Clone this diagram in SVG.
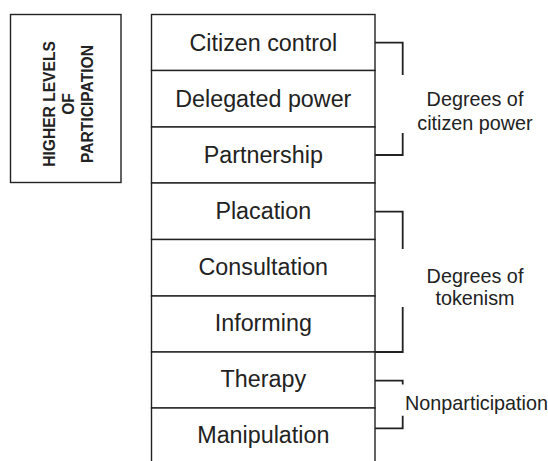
<svg xmlns="http://www.w3.org/2000/svg" width="548" height="461" viewBox="0 0 548 461">
  <style>
    .box { fill: #ffffff; stroke: #222222; stroke-width: 1.4; }
    .rung { font-family: "Liberation Sans", Arial, sans-serif; font-size: 23.3px; fill: #222222; text-anchor: middle; }
    .side { font-family: "Liberation Sans", Arial, sans-serif; font-size: 19.8px; fill: #222222; text-anchor: middle; }
    .axis { font-family: "Liberation Sans", Arial, sans-serif; font-size: 15.6px; font-weight: bold; fill: #222222; text-anchor: middle; }
    .bracket { fill: none; stroke: #222222; stroke-width: 1.8; }
  </style>
  <rect width="548" height="461" fill="#ffffff"/>

  <!-- side label box -->
  <g id="levels">
    <rect class="box" x="10.5" y="14.5" width="110.5" height="168"/>
    <text class="axis" transform="translate(55,104) rotate(-90)">HIGHER LEVELS</text>
    <text class="axis" transform="translate(74,104) rotate(-90)">OF</text>
    <text class="axis" transform="translate(93,104) rotate(-90)">PARTICIPATION</text>
  </g>

  <!-- ladder rungs, top to bottom -->
  <g id="citizen-control">
    <rect class="box" x="151.5" y="14.5" width="223.5" height="56"/>
    <text class="rung" x="263.3" y="50.5">Citizen control</text>
  </g>
  <g id="delegated-power">
    <rect class="box" x="151.5" y="70.5" width="223.5" height="56.5"/>
    <text class="rung" x="263.3" y="106.5">Delegated power</text>
  </g>
  <g id="partnership">
    <rect class="box" x="151.5" y="127" width="223.5" height="56"/>
    <text class="rung" x="263.3" y="162.5">Partnership</text>
  </g>
  <g id="placation">
    <rect class="box" x="151.5" y="183" width="223.5" height="56.5"/>
    <text class="rung" x="263.3" y="218.5">Placation</text>
  </g>
  <g id="consultation">
    <rect class="box" x="151.5" y="239.5" width="223.5" height="56.5"/>
    <text class="rung" x="263.3" y="275">Consultation</text>
  </g>
  <g id="informing">
    <rect class="box" x="151.5" y="296" width="223.5" height="56"/>
    <text class="rung" x="263.3" y="331">Informing</text>
  </g>
  <g id="therapy">
    <rect class="box" x="151.5" y="352" width="223.5" height="56"/>
    <text class="rung" x="263.3" y="387">Therapy</text>
  </g>
  <g id="manipulation">
    <rect class="box" x="151.5" y="408" width="223.5" height="58"/>
    <text class="rung" x="263.3" y="443">Manipulation</text>
  </g>

  <!-- grouping brackets -->
  <g id="connectors">
    <path class="bracket" d="M375,42.7 H402.7 V75 M402.7,133 V155 H375"/>
    <path class="bracket" d="M375,211.7 H402.7 V249 M402.7,307 V352 H375"/>
    <path class="bracket" d="M375,380.7 H402.7 V384.5 M402.7,415.7 V428.3 H375"/>
  </g>

  <!-- group labels -->
  <g id="citizen-power">
    <text class="side" x="475" y="106">Degrees of</text>
    <text class="side" x="475" y="130">citizen power</text>
  </g>
  <g id="tokenism">
    <text class="side" x="475" y="283">Degrees of</text>
    <text class="side" x="475" y="305">tokenism</text>
  </g>
  <g id="nonparticipation">
    <text class="side" x="476.5" y="409.5">Nonparticipation</text>
  </g>
</svg>
